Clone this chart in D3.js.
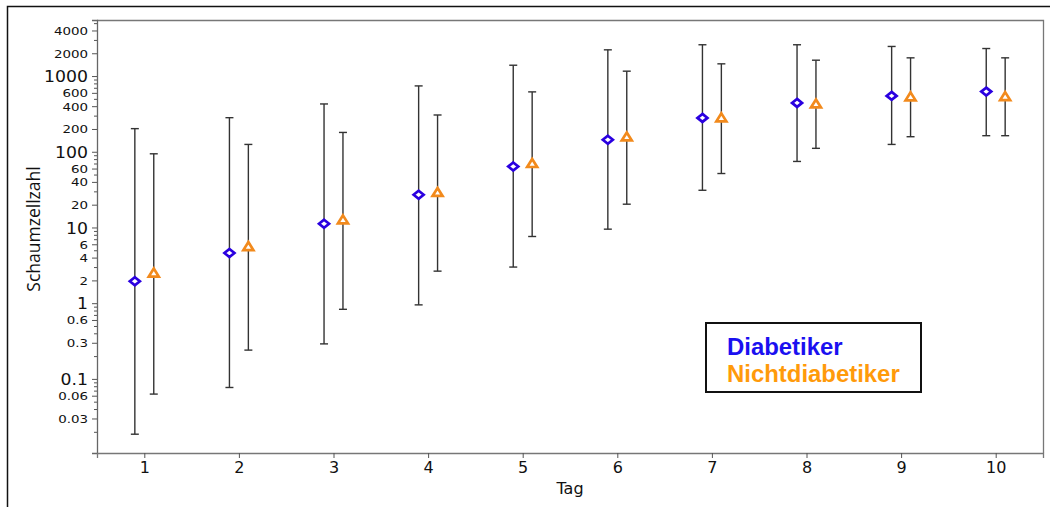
<!DOCTYPE html>
<html>
<head>
<meta charset="utf-8">
<script src="https://cdn.jsdelivr.net/npm/d3@7"></script>
<style>
  body { margin: 0; background: #fff; }
  svg { display: block; }
</style>
</head>
<body>
<div class="chart"></div>
<script>
// data (geometric mean with range per day)
const days = [1, 2, 3, 4, 5, 6, 7, 8, 9, 10];
const diabMean = [1.95, 4.6, 11.2, 27, 64, 144, 280, 442, 547, 623];
const diabLow = [0.0186, 0.077, 0.29, 0.95, 3.0, 9.5, 31, 74.5, 125, 163];
const diabHigh = [202, 282, 428, 741, 1390, 2220, 2590, 2590, 2460, 2310];
const nondMean = [2.5, 5.6, 12.6, 29, 70, 157, 280, 428, 531, 535];
const nondLow = [0.063, 0.24, 0.83, 2.65, 7.6, 20.3, 51.6, 111, 158, 163];
const nondHigh = [94, 125, 180, 306, 618, 1160, 1450, 1620, 1740, 1740];

const yLabels = [4000, 2000, 1000, 600, 400, 200, 100, 60, 40, 20, 10, 6, 4, 2, 1, 0.6, 0.3, 0.1, 0.06, 0.03];
const legendNames = ["Diabetiker", "Nichtdiabetiker"];

const width = 1050, height = 507;
const margin = { left: 97, right: 7, top: 20, bottom: 54 };

const BLUE = "#2a00e0", ORANGE = "#f28a1c";

const svg = d3.select(".chart").append("svg")
    .attr("width", width)
    .attr("height", height);

// outer frame (only top & left visible)
svg.append("path")
    .attr("d", `M7.5,${height}V6.5H${width}`)
    .attr("fill", "none")
    .attr("stroke", "#111")
    .attr("stroke-width", 1.5);

const x = d3.scaleLinear()
    .domain([0.5, 10.5])
    .range([margin.left, width - margin.right]);

const y = d3.scaleLog()
    .domain([0.0105, 5500])
    .range([height - margin.bottom, margin.top]);

// plot frame top/right
svg.append("path")
    .attr("d", `M${margin.left},${margin.top + 0.5}H${width - margin.right + 0.5}V${height - margin.bottom}`)
    .attr("fill", "none")
    .attr("stroke", "#777")
    .attr("stroke-width", 1.3);

// y axis: minor ticks (all 1..9 multiples)
const allTicks = y.ticks(20);
const yAxisMinor = d3.axisLeft(y)
    .tickValues(allTicks.filter(v => !yLabels.includes(v)))
    .tickSize(3)
    .tickFormat("");
svg.append("g")
    .attr("transform", `translate(${margin.left},0)`)
    .call(yAxisMinor)
    .call(g => g.select(".domain").remove())
    .selectAll("line").attr("stroke", "#555");

const isDecade = d => Math.abs(Math.log10(d) % 1) < 1e-9;

const yAxis = d3.axisLeft(y)
    .tickValues(yLabels)
    .tickSize(5)
    .tickPadding(9)
    .tickFormat(d => String(d));

const yg = svg.append("g")
    .attr("transform", `translate(${margin.left},0)`)
    .call(yAxis);
yg.select(".domain").attr("stroke", "#666").attr("stroke-width", 1.3);
yg.selectAll("line").attr("stroke", "#555");
yg.selectAll("text")
    .attr("x", null)
    .attr("dy", "0.36em")
    .attr("fill", "#111")
    .style("font-family", "DejaVu Sans")
    .style("font-size", d => (isDecade(d) ? "16px" : "11px"))
    .attr("transform", d => (isDecade(d) ? "translate(-9,0) scale(1.08,1)" : "translate(-9,0) scale(1.22,1)"));

// x axis
const xAxis = d3.axisBottom(x)
    .tickValues(days)
    .tickSize(5)
    .tickPadding(4)
    .tickFormat(d3.format("d"));
const xg = svg.append("g")
    .attr("transform", `translate(0,${height - margin.bottom})`)
    .call(xAxis);
xg.select(".domain").attr("stroke", "#777").attr("stroke-width", 1.3);
xg.selectAll("line").attr("stroke", "#555");
xg.selectAll("text")
    .attr("fill", "#111")
    .style("font-family", "DejaVu Sans")
    .style("font-size", "16px");

svg.append("text")
    .attr("x", (margin.left + width - margin.right) / 2)
    .attr("y", 494)
    .attr("text-anchor", "middle")
    .attr("fill", "#111")
    .style("font-family", "DejaVu Sans")
    .style("font-size", "16px")
    .text("Tag");

svg.append("text")
    .attr("transform", `translate(40,229) rotate(-90)`)
    .attr("text-anchor", "middle")
    .attr("fill", "#111")
    .style("font-family", "Open Sans")
    .style("font-size", "17.5px")
    .text("Schaumzellzahl");

// error bars + markers
const groups = [
    { offset: -0.1, mean: diabMean, low: diabLow, high: diabHigh, color: BLUE, shape: "diamond" },
    { offset: 0.1, mean: nondMean, low: nondLow, high: nondHigh, color: ORANGE, shape: "triangle" }
];

const diamond = "M0,-4L5,0L0,4L-5,0Z";
const triangle = "M0,-4.5L5,3.5L-5,3.5Z";

groups.forEach(grp => {
    const rows = days.map((d, i) => ({ day: d, mean: grp.mean[i], low: grp.low[i], high: grp.high[i] }));
    const g = svg.append("g");

    g.selectAll(".bar")
        .data(rows)
        .join("line")
        .attr("x1", d => x(d.day + grp.offset))
        .attr("x2", d => x(d.day + grp.offset))
        .attr("y1", d => y(d.low))
        .attr("y2", d => y(d.high))
        .attr("stroke", "#333")
        .attr("stroke-width", 1.4);

    ["low", "high"].forEach(k => {
        g.selectAll(".cap-" + k)
            .data(rows)
            .join("line")
            .attr("x1", d => x(d.day + grp.offset) - 4)
            .attr("x2", d => x(d.day + grp.offset) + 4)
            .attr("y1", d => y(d[k]))
            .attr("y2", d => y(d[k]))
            .attr("stroke", "#333")
            .attr("stroke-width", 1.4);
    });

    g.selectAll(".mark")
        .data(rows)
        .join("path")
        .attr("transform", d => `translate(${x(d.day + grp.offset)},${y(d.mean)})`)
        .attr("d", grp.shape === "diamond" ? diamond : triangle)
        .attr("fill", "#fff")
        .attr("stroke", grp.color)
        .attr("stroke-width", 2.7);
});

// legend
const lg = svg.append("g").attr("transform", "translate(706,323)");
lg.append("rect")
    .attr("width", 215)
    .attr("height", 69)
    .attr("fill", "#fff")
    .attr("stroke", "#111")
    .attr("stroke-width", 2);
lg.selectAll("text")
    .data(legendNames)
    .join("text")
    .attr("transform", (d, i) => `translate(21,${32 + i * 26.5}) scale(1.04,1)`)
    .attr("fill", (d, i) => i === 0 ? "#1a10f0" : "#ff9a0a")
    .style("font-family", "Liberation Sans")
    .style("font-weight", "bold")
    .style("font-size", "23px")
    .text(d => d);
</script>
</body>
</html>
